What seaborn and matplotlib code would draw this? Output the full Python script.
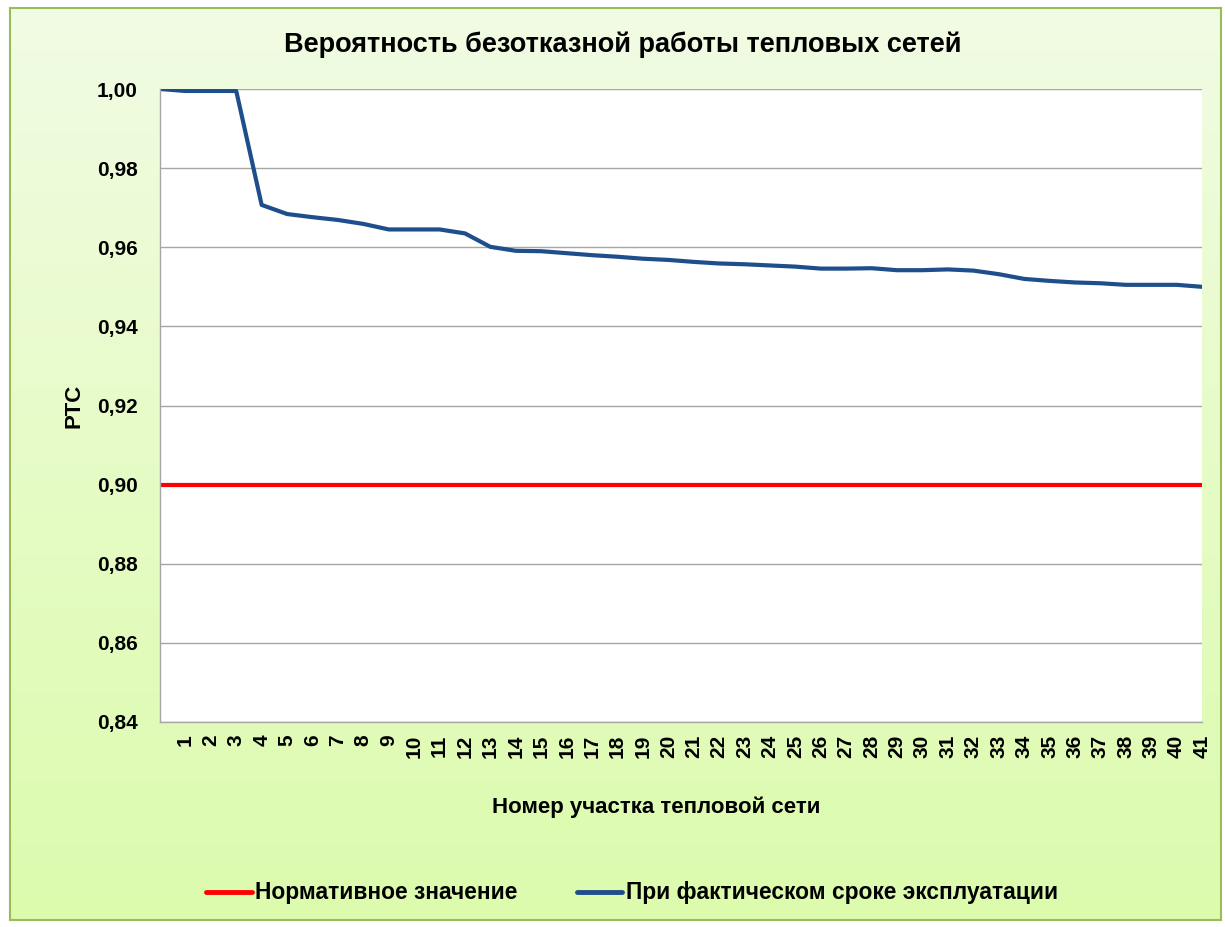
"""
Вероятность безотказной работы тепловых сетей — линейный график.
"""
import numpy as np
import pandas as pd
import matplotlib
matplotlib.use("Agg")
import matplotlib.pyplot as plt
import seaborn as sns
from matplotlib.colors import LinearSegmentedColormap
from matplotlib.ticker import FuncFormatter

# --- данные ---
section_labels = [""] + [str(i) for i in range(1, 42)]
ptc_actual = [
    1.0000, 0.9995, 0.9995, 0.9995, 0.9707, 0.9684, 0.9676, 0.9669, 0.9659, 0.9645,
    0.9645, 0.9645, 0.9635, 0.9601, 0.9591, 0.9590, 0.9585, 0.9580, 0.9576, 0.9571,
    0.9568, 0.9563, 0.9559, 0.9557, 0.9554, 0.9551, 0.9546, 0.9546, 0.9547, 0.9542,
    0.9542, 0.9544, 0.9541, 0.9532, 0.9520, 0.9515, 0.9511, 0.9509, 0.9505, 0.9505,
    0.9505, 0.9500,
]
norm_value = 0.90
series_names = ["Нормативное значение", "При фактическом сроке эксплуатации"]
y_ticks = [0.84, 0.86, 0.88, 0.90, 0.92, 0.94, 0.96, 0.98, 1.00]

pos = np.arange(len(section_labels))
df = pd.DataFrame({
    "pos": np.concatenate([pos, pos]),
    "ptc": [norm_value] * len(pos) + ptc_actual,
    "series": [series_names[0]] * len(pos) + [series_names[1]] * len(pos),
})

sns.set_style("white")
plt.rcParams["font.family"] = ["Liberation Sans", "DejaVu Sans"]
plt.rcParams["font.weight"] = "bold"
plt.rcParams["text.color"] = "black"
plt.rcParams["xtick.color"] = "black"
plt.rcParams["ytick.color"] = "black"
plt.rcParams["axes.labelcolor"] = "black"

W, H = 1225, 927
fig = plt.figure(figsize=(W / 100, H / 100), dpi=100)
fig.patch.set_facecolor("white")

# фон с градиентом и зелёной рамкой
bg = fig.add_axes([10 / W, 1 - 920 / H, 1211 / W, 912 / H], zorder=0)
grad = np.linspace(0, 1, 256).reshape(-1, 1)
cmap = LinearSegmentedColormap.from_list("bg", ["#f1fce4", "#e6fbc6", "#dcfbad"])
bg.imshow(grad, aspect="auto", cmap=cmap, extent=[0, 1, 0, 1])
bg.set_xticks([])
bg.set_yticks([])
for s in bg.spines.values():
    s.set_color("#9bbb59")
    s.set_linewidth(1.5)

ax = fig.add_axes([160 / W, 1 - 722 / H, 1042 / W, 633 / H], zorder=1)
ax.set_facecolor("white")

sns.lineplot(
    data=df, x="pos", y="ptc", hue="series",
    palette=["#ff0000", "#1f4e8c"], linewidth=3.0, ax=ax, legend=False,
)

ax.set_xlim(0, len(pos) - 1)
ax.set_ylim(0.84, 1.00)
ax.set_yticks(y_ticks)
ax.yaxis.set_major_formatter(FuncFormatter(lambda v, _: f"{v:.2f}".replace(".", ",")))
ax.set_xticks(pos)
ax.set_xticklabels(section_labels, rotation=90, fontsize=15, fontweight="bold")
for lbl in ax.get_yticklabels():
    lbl.set_fontsize(15)
    lbl.set_fontweight("bold")

ax.grid(axis="y", color="#a6a6a6", linewidth=1.0)
ax.tick_params(axis="both", direction="out", length=5, color="#a6a6a6", width=1.0)
ax.tick_params(axis="y", pad=11)
ax.tick_params(axis="x", pad=4)
for side in ["top", "right"]:
    ax.spines[side].set_visible(False)
for side in ["left", "bottom"]:
    ax.spines[side].set_color("#a6a6a6")
    ax.spines[side].set_linewidth(1.0)

ax.set_xlabel("Номер участка тепловой сети", fontsize=16, fontweight="bold", labelpad=28)
ax.xaxis.set_label_coords(0.476, -0.117)
ax.set_ylabel("РТС", fontsize=16, fontweight="bold", labelpad=9)

fig.text(623 / W, 1 - 45 / H, "Вероятность безотказной работы тепловых сетей",
         ha="center", va="center", fontsize=19.5, fontweight="bold")

# легенда
handles = [plt.Line2D([], [], color="#ff0000", linewidth=3.5),
           plt.Line2D([], [], color="#1f4e8c", linewidth=3.5)]
fig.legend(handles, series_names, loc="center", bbox_to_anchor=(632 / W, 1 - 893 / H),
           ncol=2, frameon=False, handlelength=2.0, handletextpad=0.15, columnspacing=2.6,
           prop={"weight": "bold", "size": 16.4})

fig.savefig("out.png", dpi=100)
plt.close(fig)
